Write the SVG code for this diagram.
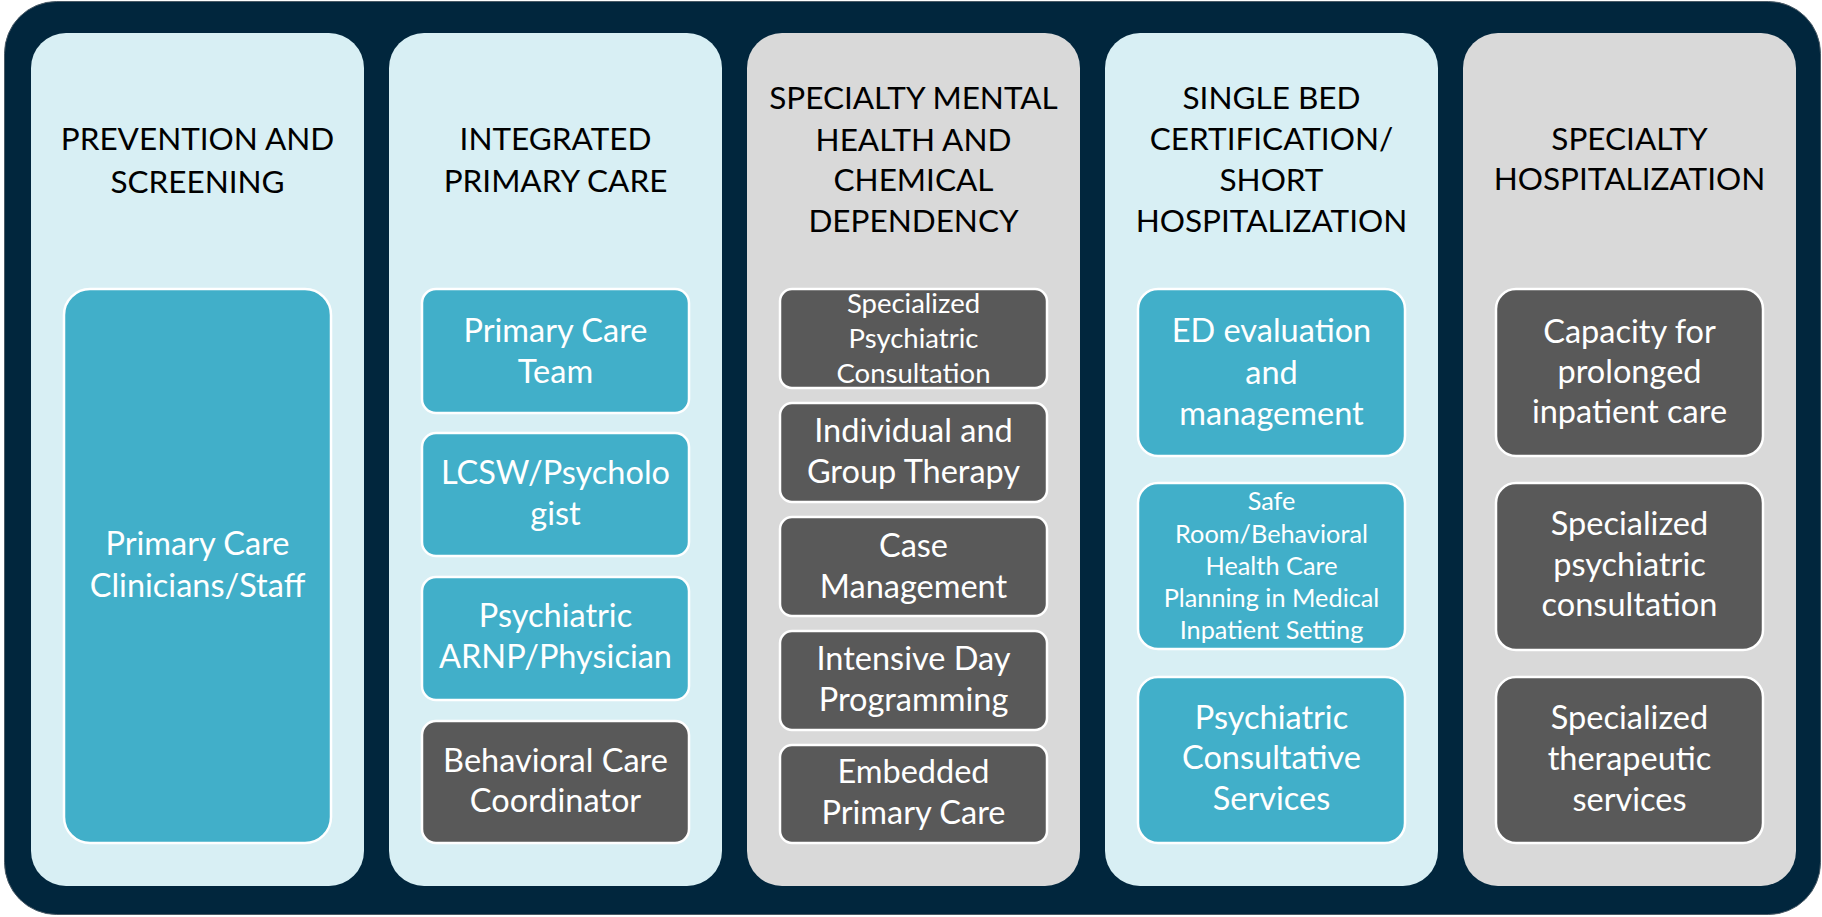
<svg xmlns="http://www.w3.org/2000/svg" width="1822" height="917" viewBox="0 0 1822 917">
<style>
.frame{fill:#01263D;stroke:#4a5a66;stroke-width:1}
.colB{fill:#D8EFF4}
.colG{fill:#D9D9D9}
.bt{fill:#41AFC9;stroke:#FFFFFF;stroke-width:2.5}
.bg{fill:#595959;stroke:#FFFFFF;stroke-width:2.5}
.h{font-family:Lato,"Liberation Sans",sans-serif;font-size:31.5px;fill:#000000;text-anchor:middle}
.t{font-family:Lato,"Liberation Sans",sans-serif;font-size:32.5px;fill:#FFFFFF;text-anchor:middle}
.s{font-family:Lato,"Liberation Sans",sans-serif;font-size:27.5px;fill:#FFFFFF;text-anchor:middle}
.xs{font-family:Lato,"Liberation Sans",sans-serif;font-size:25.3px;fill:#FFFFFF;text-anchor:middle}
</style>
<rect class="frame" x="4.5" y="1.5" width="1816" height="913" rx="52"/>

<g id="col1">
<rect class="colB" x="31" y="33" width="333" height="853" rx="35"/>
<text class="h" x="197.5"><tspan x="197.5" y="150">PREVENTION AND</tspan><tspan x="197.5" y="193">SCREENING</tspan></text>
</g>
<g id="col1-box1">
<rect class="bt" x="64" y="289" width="267" height="554" rx="26"/>
<text class="t"><tspan x="197.5" y="555">Primary Care</tspan><tspan x="197.5" y="597">Clinicians/Staff</tspan></text>
</g>

<g id="col2">
<rect class="colB" x="389" y="33" width="333" height="853" rx="35"/>
<text class="h"><tspan x="555.5" y="150">INTEGRATED</tspan><tspan x="555.5" y="192">PRIMARY CARE</tspan></text>
</g>
<g id="col2-box1">
<rect class="bt" x="422" y="289" width="267" height="124" rx="14"/>
<text class="t"><tspan x="555.5" y="342">Primary Care</tspan><tspan x="555.5" y="383">Team</tspan></text>
</g>
<g id="col2-box2">
<rect class="bt" x="422" y="433" width="267" height="123" rx="14"/>
<text class="t"><tspan x="555.5" y="484">LCSW/Psycholo</tspan><tspan x="555.5" y="525">gist</tspan></text>
</g>
<g id="col2-box3">
<rect class="bt" x="422" y="577" width="267" height="123" rx="14"/>
<text class="t"><tspan x="555.5" y="627">Psychiatric</tspan><tspan x="555.5" y="668">ARNP/Physician</tspan></text>
</g>
<g id="col2-box4">
<rect class="bg" x="422" y="721" width="267" height="122" rx="14"/>
<text class="t"><tspan x="555.5" y="772">Behavioral Care</tspan><tspan x="555.5" y="812">Coordinator</tspan></text>
</g>

<g id="col3">
<rect class="colG" x="747" y="33" width="333" height="853" rx="35"/>
<text class="h"><tspan x="913.5" y="109">SPECIALTY MENTAL</tspan><tspan x="913.5" y="151">HEALTH AND</tspan><tspan x="913.5" y="191">CHEMICAL</tspan><tspan x="913.5" y="232">DEPENDENCY</tspan></text>
</g>
<g id="col3-box1">
<rect class="bg" x="780" y="289" width="267" height="99" rx="12"/>
<text class="s"><tspan x="913.5" y="313">Specialized</tspan><tspan x="913.5" y="348">Psychiatric</tspan><tspan x="913.5" y="383">Consultation</tspan></text>
</g>
<g id="col3-box2">
<rect class="bg" x="780" y="403" width="267" height="99" rx="12"/>
<text class="t"><tspan x="913.5" y="442">Individual and</tspan><tspan x="913.5" y="483">Group Therapy</tspan></text>
</g>
<g id="col3-box3">
<rect class="bg" x="780" y="517" width="267" height="99" rx="12"/>
<text class="t"><tspan x="913.5" y="557">Case</tspan><tspan x="913.5" y="598">Management</tspan></text>
</g>
<g id="col3-box4">
<rect class="bg" x="780" y="631" width="267" height="99" rx="12"/>
<text class="t"><tspan x="913.5" y="670">Intensive Day</tspan><tspan x="913.5" y="711">Programming</tspan></text>
</g>
<g id="col3-box5">
<rect class="bg" x="780" y="745" width="267" height="98" rx="12"/>
<text class="t"><tspan x="913.5" y="783">Embedded</tspan><tspan x="913.5" y="824">Primary Care</tspan></text>
</g>

<g id="col4">
<rect class="colB" x="1105" y="33" width="333" height="853" rx="35"/>
<text class="h"><tspan x="1271.5" y="109">SINGLE BED</tspan><tspan x="1271.5" y="150">CERTIFICATION/</tspan><tspan x="1271.5" y="191">SHORT</tspan><tspan x="1271.5" y="232">HOSPITALIZATION</tspan></text>
</g>
<g id="col4-box1">
<rect class="bt" x="1138" y="289" width="267" height="167" rx="20"/>
<text class="t"><tspan x="1271.5" y="342">ED evaluation</tspan><tspan x="1271.5" y="384">and</tspan><tspan x="1271.5" y="425">management</tspan></text>
</g>
<g id="col4-box2">
<rect class="bt" x="1138" y="483" width="267" height="166" rx="20"/>
<text class="xs"><tspan x="1271.5" y="510">Safe</tspan><tspan x="1271.5" y="543">Room/Behavioral</tspan><tspan x="1271.5" y="575">Health Care</tspan><tspan x="1271.5" y="607">Planning in Medical</tspan><tspan x="1271.5" y="639">Inpatient Setting</tspan></text>
</g>
<g id="col4-box3">
<rect class="bt" x="1138" y="677" width="267" height="166" rx="20"/>
<text class="t"><tspan x="1271.5" y="729">Psychiatric</tspan><tspan x="1271.5" y="769">Consultative</tspan><tspan x="1271.5" y="810">Services</tspan></text>
</g>

<g id="col5">
<rect class="colG" x="1463" y="33" width="333" height="853" rx="35"/>
<text class="h"><tspan x="1629.5" y="150">SPECIALTY</tspan><tspan x="1629.5" y="190">HOSPITALIZATION</tspan></text>
</g>
<g id="col5-box1">
<rect class="bg" x="1496" y="289" width="267" height="167" rx="20"/>
<text class="t"><tspan x="1629.5" y="343">Capacity for</tspan><tspan x="1629.5" y="383">prolonged</tspan><tspan x="1629.5" y="423">inpatient care</tspan></text>
</g>
<g id="col5-box2">
<rect class="bg" x="1496" y="483" width="267" height="167" rx="20"/>
<text class="t"><tspan x="1629.5" y="535">Specialized</tspan><tspan x="1629.5" y="576">psychiatric</tspan><tspan x="1629.5" y="616">consultation</tspan></text>
</g>
<g id="col5-box3">
<rect class="bg" x="1496" y="677" width="267" height="166" rx="20"/>
<text class="t"><tspan x="1629.5" y="729">Specialized</tspan><tspan x="1629.5" y="770">therapeutic</tspan><tspan x="1629.5" y="811">services</tspan></text>
</g>

<g id="connectors"></g>
</svg>
